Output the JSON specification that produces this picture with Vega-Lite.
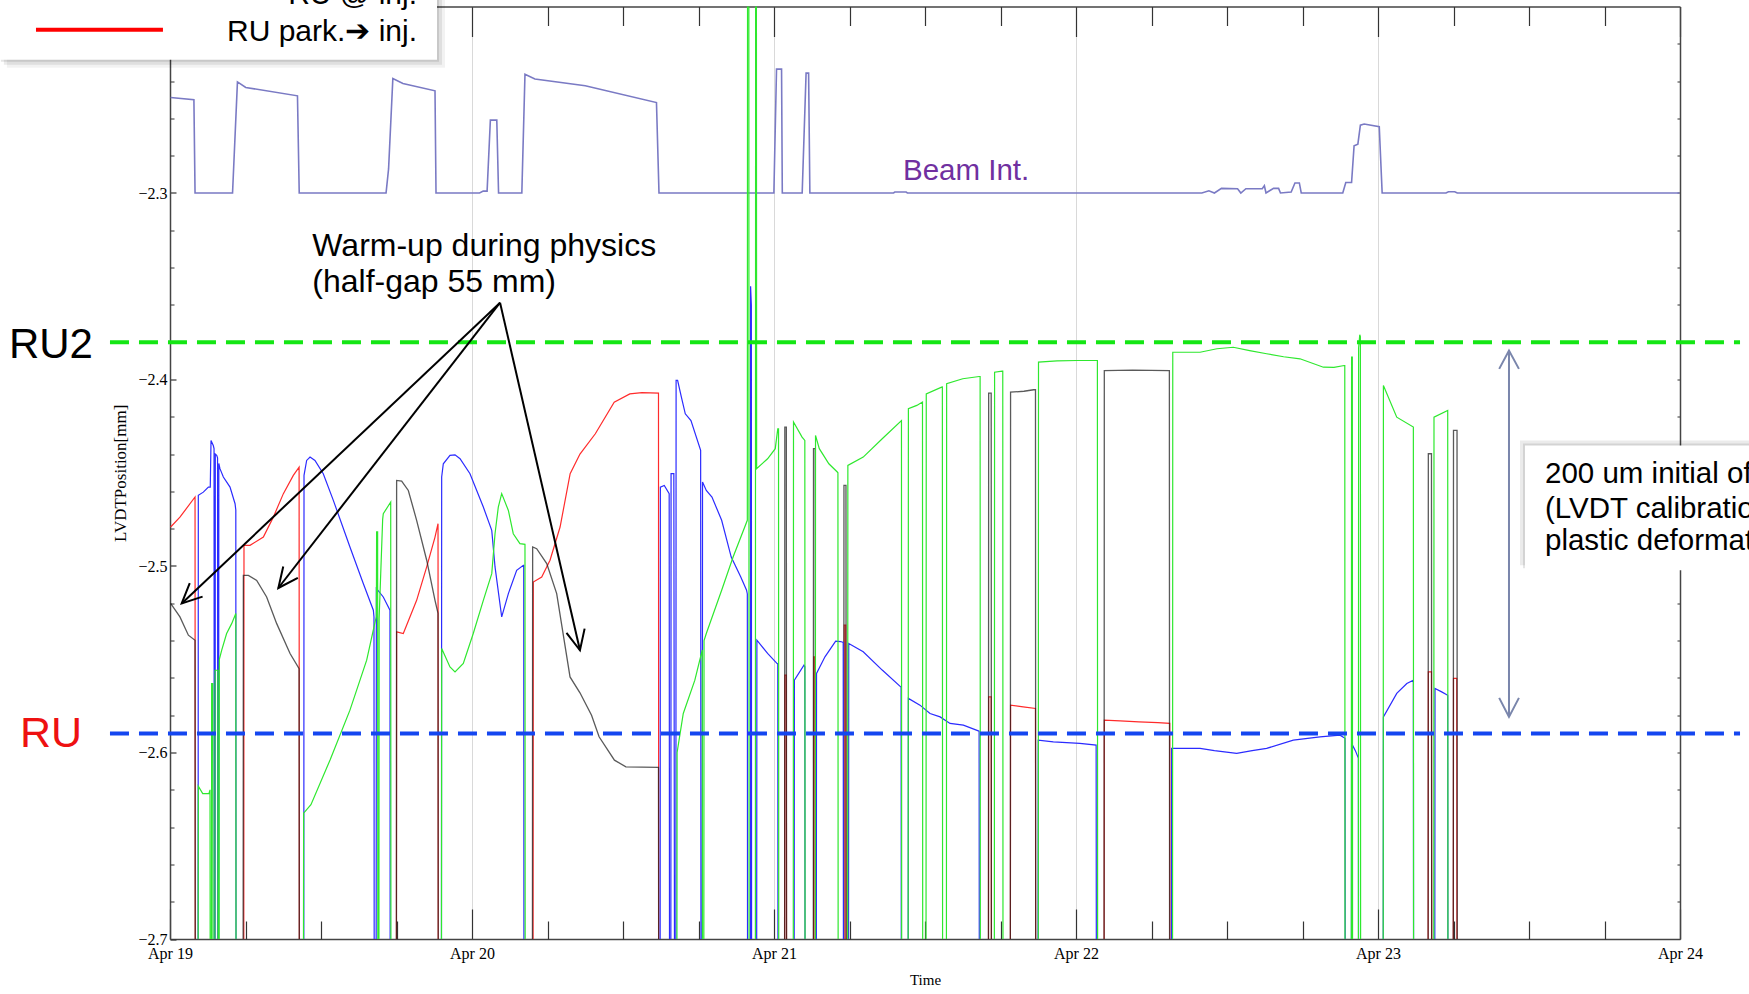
{
"$schema":"https://vega.github.io/schema/vega-lite/v6.json",
"width":1510,"height":932.5,
"autosize":{"type":"none"},
"padding":{"left":170,"top":6.5,"right":69,"bottom":55},
"background":"#ffffff",
"config":{"view":{"stroke":null}},
"datasets":{
"series":[
{"s":"p","h":0.05,"v":-2.2488},{"s":"p","h":1.9,"v":-2.25},{"s":"p","h":1.99,"v":-2.3},{"s":"p","h":4.97,"v":-2.3},{"s":"p","h":5.36,"v":-2.2404},{"s":"p","h":6.02,"v":-2.2434},{"s":"p","h":10.13,"v":-2.2479},{"s":"p","h":10.27,"v":-2.3},{"s":"p","h":17.17,"v":-2.3},{"s":"p","h":17.37,"v":-2.2871},{"s":"p","h":17.71,"v":-2.2386},{"s":"p","h":18.51,"v":-2.2413},{"s":"p","h":21.06,"v":-2.2452},{"s":"p","h":21.14,"v":-2.3},{"s":"p","h":24.6,"v":-2.3},{"s":"p","h":24.89,"v":-2.299},{"s":"p","h":25.2,"v":-2.299},{"s":"p","h":25.46,"v":-2.2609},{"s":"p","h":25.97,"v":-2.2609},{"s":"p","h":26.11,"v":-2.3},{"s":"p","h":27.96,"v":-2.3},{"s":"p","h":28.21,"v":-2.2363},{"s":"p","h":29.0,"v":-2.2389},{"s":"p","h":33.0,"v":-2.2425},{"s":"p","h":38.66,"v":-2.2515},{"s":"p","h":38.86,"v":-2.3},{"s":"p","h":47.99,"v":-2.3},{"s":"p","h":48.2,"v":-2.2336},{"s":"p","h":48.6,"v":-2.2336},{"s":"p","h":48.66,"v":-2.3},{"s":"p","h":50.24,"v":-2.3},{"s":"p","h":50.55,"v":-2.2357},{"s":"p","h":50.75,"v":-2.2357},{"s":"p","h":50.85,"v":-2.3},{"s":"p","h":57.5,"v":-2.3},{"s":"p","h":57.6,"v":-2.2995},{"s":"p","h":58.5,"v":-2.2995},{"s":"p","h":58.6,"v":-2.3},{"s":"p","h":82.0,"v":-2.3},{"s":"p","h":82.56,"v":-2.2988},{"s":"p","h":83.0,"v":-2.3},{"s":"p","h":83.56,"v":-2.2975},{"s":"p","h":84.84,"v":-2.2977},{"s":"p","h":85.1,"v":-2.3},{"s":"p","h":85.5,"v":-2.2977},{"s":"p","h":86.8,"v":-2.2977},{"s":"p","h":86.97,"v":-2.2961},{"s":"p","h":87.1,"v":-2.3},{"s":"p","h":87.7,"v":-2.2975},{"s":"p","h":88.1,"v":-2.2975},{"s":"p","h":88.25,"v":-2.3},{"s":"p","h":89.1,"v":-2.2995},{"s":"p","h":89.4,"v":-2.2946},{"s":"p","h":89.75,"v":-2.2946},{"s":"p","h":89.9,"v":-2.3},{"s":"p","h":93.2,"v":-2.3},{"s":"p","h":93.44,"v":-2.2944},{"s":"p","h":93.9,"v":-2.2944},{"s":"p","h":94.1,"v":-2.2747},{"s":"p","h":94.4,"v":-2.2738},{"s":"p","h":94.6,"v":-2.2636},{"s":"p","h":94.9,"v":-2.263},{"s":"p","h":96.1,"v":-2.2645},{"s":"p","h":96.33,"v":-2.3},{"s":"p","h":101.4,"v":-2.3},{"s":"p","h":101.6,"v":-2.2993},{"s":"p","h":102.1,"v":-2.2993},{"s":"p","h":102.3,"v":-2.3},{"s":"p","h":119.95,"v":-2.3},

{"s":"r","h":0.05,"v":-2.4791},{"s":"r","h":0.79,"v":-2.4738},{"s":"r","h":1.99,"v":-2.463},{"s":"r","h":2.01,"v":-2.75},{"s":"r","h":5.86,"v":-2.75},{"s":"r","h":5.88,"v":-2.4889},{"s":"r","h":6.36,"v":-2.4889},{"s":"r","h":7.42,"v":-2.4845},{"s":"r","h":8.21,"v":-2.4738},{"s":"r","h":9.01,"v":-2.4612},{"s":"r","h":9.8,"v":-2.4514},{"s":"r","h":10.26,"v":-2.447},{"s":"r","h":10.28,"v":-2.75},{"s":"r","h":17.99,"v":-2.75},{"s":"r","h":18.01,"v":-2.5353},{"s":"r","h":18.54,"v":-2.5362},{"s":"r","h":19.6,"v":-2.5184},{"s":"r","h":20.4,"v":-2.5005},{"s":"r","h":21.06,"v":-2.4845},{"s":"r","h":21.3,"v":-2.4773},{"s":"r","h":21.32,"v":-2.75},{"s":"r","h":28.85,"v":-2.75},{"s":"r","h":28.87,"v":-2.5086},{"s":"r","h":29.54,"v":-2.5059},{"s":"r","h":30.2,"v":-2.4969},{"s":"r","h":31.0,"v":-2.4791},{"s":"r","h":31.8,"v":-2.4505},{"s":"r","h":32.58,"v":-2.44},{"s":"r","h":33.8,"v":-2.4291},{"s":"r","h":35.3,"v":-2.4122},{"s":"r","h":36.54,"v":-2.4077},{"s":"r","h":37.5,"v":-2.407},{"s":"r","h":38.82,"v":-2.4073},{"s":"r","h":38.84,"v":-2.75},{"s":"r","h":48.84,"v":-2.75},{"s":"r","h":48.86,"v":-2.5585},{"s":"r","h":48.98,"v":-2.5585},{"s":"r","h":49.0,"v":-2.75},{"s":"r","h":51.14,"v":-2.75},{"s":"r","h":51.16,"v":-2.5487},{"s":"r","h":51.26,"v":-2.5487},{"s":"r","h":51.28,"v":-2.75},{"s":"r","h":53.56,"v":-2.75},{"s":"r","h":53.58,"v":-2.5317},{"s":"r","h":53.7,"v":-2.5317},{"s":"r","h":53.72,"v":-2.75},{"s":"r","h":65.04,"v":-2.75},{"s":"r","h":65.06,"v":-2.5702},{"s":"r","h":65.26,"v":-2.5702},{"s":"r","h":65.28,"v":-2.75},{"s":"r","h":66.78,"v":-2.75},{"s":"r","h":66.8,"v":-2.5746},{"s":"r","h":67.8,"v":-2.5755},{"s":"r","h":68.78,"v":-2.5764},{"s":"r","h":68.8,"v":-2.75},{"s":"r","h":74.23,"v":-2.75},{"s":"r","h":74.25,"v":-2.5826},{"s":"r","h":75.5,"v":-2.583},{"s":"r","h":77.0,"v":-2.5836},{"s":"r","h":78.5,"v":-2.584},{"s":"r","h":79.45,"v":-2.5844},{"s":"r","h":79.47,"v":-2.75},{"s":"r","h":99.98,"v":-2.75},{"s":"r","h":100.0,"v":-2.5568},{"s":"r","h":100.25,"v":-2.5568},{"s":"r","h":100.27,"v":-2.75},{"s":"r","h":101.98,"v":-2.75},{"s":"r","h":102.0,"v":-2.5603},{"s":"r","h":102.26,"v":-2.5603},{"s":"r","h":102.28,"v":-2.75},{"s":"r","h":120,"v":-2.75},

{"s":"k","h":0.05,"v":-2.5201},{"s":"k","h":0.79,"v":-2.5273},{"s":"k","h":1.46,"v":-2.5371},{"s":"k","h":1.99,"v":-2.5398},{"s":"k","h":2.01,"v":-2.75},{"s":"k","h":5.81,"v":-2.75},{"s":"k","h":5.83,"v":-2.505},{"s":"k","h":6.23,"v":-2.505},{"s":"k","h":6.89,"v":-2.5077},{"s":"k","h":7.68,"v":-2.5166},{"s":"k","h":8.48,"v":-2.5309},{"s":"k","h":9.54,"v":-2.5469},{"s":"k","h":10.26,"v":-2.555},{"s":"k","h":10.28,"v":-2.75},{"s":"k","h":17.99,"v":-2.75},{"s":"k","h":18.01,"v":-2.4541},{"s":"k","h":18.41,"v":-2.4545},{"s":"k","h":18.94,"v":-2.4595},{"s":"k","h":19.6,"v":-2.4755},{"s":"k","h":20.4,"v":-2.4969},{"s":"k","h":21.06,"v":-2.5184},{"s":"k","h":21.3,"v":-2.5254},{"s":"k","h":21.32,"v":-2.75},{"s":"k","h":28.8,"v":-2.75},{"s":"k","h":28.82,"v":-2.4898},{"s":"k","h":29.14,"v":-2.4907},{"s":"k","h":29.94,"v":-2.4987},{"s":"k","h":30.73,"v":-2.5148},{"s":"k","h":31.79,"v":-2.5595},{"s":"k","h":32.58,"v":-2.568},{"s":"k","h":33.5,"v":-2.58},{"s":"k","h":34.1,"v":-2.5916},{"s":"k","h":35.32,"v":-2.6041},{"s":"k","h":36.23,"v":-2.6077},{"s":"k","h":37.5,"v":-2.6078},{"s":"k","h":38.82,"v":-2.608},{"s":"k","h":38.84,"v":-2.75},{"s":"k","h":48.84,"v":-2.75},{"s":"k","h":48.86,"v":-2.4255},{"s":"k","h":48.98,"v":-2.4255},{"s":"k","h":49.0,"v":-2.75},{"s":"k","h":51.12,"v":-2.75},{"s":"k","h":51.14,"v":-2.4371},{"s":"k","h":51.28,"v":-2.4371},{"s":"k","h":51.3,"v":-2.75},{"s":"k","h":53.54,"v":-2.75},{"s":"k","h":53.56,"v":-2.4568},{"s":"k","h":53.72,"v":-2.4568},{"s":"k","h":53.74,"v":-2.75},{"s":"k","h":65.04,"v":-2.75},{"s":"k","h":65.06,"v":-2.4073},{"s":"k","h":65.26,"v":-2.4073},{"s":"k","h":65.28,"v":-2.75},{"s":"k","h":66.78,"v":-2.75},{"s":"k","h":66.8,"v":-2.4068},{"s":"k","h":67.86,"v":-2.4063},{"s":"k","h":68.63,"v":-2.4055},{"s":"k","h":68.78,"v":-2.4055},{"s":"k","h":68.8,"v":-2.75},{"s":"k","h":74.23,"v":-2.75},{"s":"k","h":74.25,"v":-2.3952},{"s":"k","h":76.5,"v":-2.395},{"s":"k","h":79.42,"v":-2.3952},{"s":"k","h":79.44,"v":-2.75},{"s":"k","h":99.98,"v":-2.75},{"s":"k","h":100.0,"v":-2.4398},{"s":"k","h":100.25,"v":-2.4398},{"s":"k","h":100.27,"v":-2.75},{"s":"k","h":101.98,"v":-2.75},{"s":"k","h":102.0,"v":-2.4273},{"s":"k","h":102.28,"v":-2.4273},{"s":"k","h":102.3,"v":-2.75},{"s":"k","h":120,"v":-2.75},

{"s":"b","h":0,"v":-2.75},{"s":"b","h":2.23,"v":-2.75},{"s":"b","h":2.25,"v":-2.4621},{"s":"b","h":2.65,"v":-2.4604},{"s":"b","h":3.05,"v":-2.4577},{"s":"b","h":3.2,"v":-2.4577},{"s":"b","h":3.26,"v":-2.4327},{"s":"b","h":3.44,"v":-2.4354},{"s":"b","h":3.5,"v":-2.437},{"s":"b","h":3.52,"v":-2.75},{"s":"b","h":3.58,"v":-2.75},{"s":"b","h":3.6,"v":-2.44},{"s":"b","h":3.71,"v":-2.4407},{"s":"b","h":3.78,"v":-2.442},{"s":"b","h":3.8,"v":-2.75},{"s":"b","h":3.86,"v":-2.75},{"s":"b","h":3.88,"v":-2.445},{"s":"b","h":3.97,"v":-2.4478},{"s":"b","h":4.24,"v":-2.4523},{"s":"b","h":4.77,"v":-2.4577},{"s":"b","h":5.17,"v":-2.4666},{"s":"b","h":5.23,"v":-2.47},{"s":"b","h":5.25,"v":-2.75},{"s":"b","h":10.63,"v":-2.75},{"s":"b","h":10.65,"v":-2.4514},{"s":"b","h":10.86,"v":-2.4434},{"s":"b","h":11.13,"v":-2.4416},{"s":"b","h":11.52,"v":-2.4434},{"s":"b","h":12.18,"v":-2.4505},{"s":"b","h":12.98,"v":-2.4648},{"s":"b","h":14.3,"v":-2.4898},{"s":"b","h":15.36,"v":-2.5094},{"s":"b","h":16.16,"v":-2.5237},{"s":"b","h":16.21,"v":-2.5273},{"s":"b","h":16.23,"v":-2.75},{"s":"b","h":16.38,"v":-2.75},{"s":"b","h":16.4,"v":-2.512},{"s":"b","h":16.95,"v":-2.5166},{"s":"b","h":17.48,"v":-2.5237},{"s":"b","h":17.5,"v":-2.75},{"s":"b","h":21.57,"v":-2.75},{"s":"b","h":21.59,"v":-2.4523},{"s":"b","h":21.72,"v":-2.4452},{"s":"b","h":22.25,"v":-2.4407},{"s":"b","h":22.65,"v":-2.4404},{"s":"b","h":23.05,"v":-2.4425},{"s":"b","h":23.84,"v":-2.4505},{"s":"b","h":24.9,"v":-2.4684},{"s":"b","h":25.57,"v":-2.4809},{"s":"b","h":25.83,"v":-2.5005},{"s":"b","h":26.36,"v":-2.5273},{"s":"b","h":26.89,"v":-2.5148},{"s":"b","h":27.55,"v":-2.5023},{"s":"b","h":28.08,"v":-2.4996},{"s":"b","h":28.11,"v":-2.4996},{"s":"b","h":28.13,"v":-2.75},{"s":"b","h":38.95,"v":-2.75},{"s":"b","h":38.97,"v":-2.4577},{"s":"b","h":39.28,"v":-2.4568},{"s":"b","h":39.67,"v":-2.4612},{"s":"b","h":39.7,"v":-2.75},{"s":"b","h":39.8,"v":-2.75},{"s":"b","h":39.82,"v":-2.4505},{"s":"b","h":40.04,"v":-2.4505},{"s":"b","h":40.1,"v":-2.75},{"s":"b","h":40.2,"v":-2.75},{"s":"b","h":40.22,"v":-2.4005},{"s":"b","h":40.34,"v":-2.4005},{"s":"b","h":40.64,"v":-2.4095},{"s":"b","h":40.95,"v":-2.4184},{"s":"b","h":41.4,"v":-2.422},{"s":"b","h":42.17,"v":-2.438},{"s":"b","h":42.2,"v":-2.75},{"s":"b","h":42.3,"v":-2.75},{"s":"b","h":42.32,"v":-2.455},{"s":"b","h":42.62,"v":-2.4595},{"s":"b","h":43.07,"v":-2.463},{"s":"b","h":43.84,"v":-2.4755},{"s":"b","h":44.6,"v":-2.4952},{"s":"b","h":45.36,"v":-2.5059},{"s":"b","h":45.82,"v":-2.513},{"s":"b","h":45.88,"v":-2.515},{"s":"b","h":45.9,"v":-2.75},{"s":"b","h":46.12,"v":-2.75},{"s":"b","h":46.14,"v":-2.35},{"s":"b","h":46.2,"v":-2.36},{"s":"b","h":46.22,"v":-2.75},{"s":"b","h":46.62,"v":-2.75},{"s":"b","h":46.64,"v":-2.5398},{"s":"b","h":47.49,"v":-2.5469},{"s":"b","h":48.25,"v":-2.5523},{"s":"b","h":48.3,"v":-2.5525},{"s":"b","h":48.32,"v":-2.75},{"s":"b","h":49.6,"v":-2.75},{"s":"b","h":49.62,"v":-2.5612},{"s":"b","h":50.38,"v":-2.5532},{"s":"b","h":50.45,"v":-2.554},{"s":"b","h":50.47,"v":-2.75},{"s":"b","h":51.36,"v":-2.75},{"s":"b","h":51.38,"v":-2.5576},{"s":"b","h":52.05,"v":-2.5487},{"s":"b","h":52.9,"v":-2.5403},{"s":"b","h":53.3,"v":-2.5405},{"s":"b","h":53.5,"v":-2.541},{"s":"b","h":53.52,"v":-2.75},{"s":"b","h":53.92,"v":-2.75},{"s":"b","h":53.94,"v":-2.5416},{"s":"b","h":55.09,"v":-2.546},{"s":"b","h":56.6,"v":-2.5558},{"s":"b","h":58.07,"v":-2.5648},{"s":"b","h":58.1,"v":-2.565},{"s":"b","h":58.12,"v":-2.75},{"s":"b","h":58.66,"v":-2.75},{"s":"b","h":58.68,"v":-2.571},{"s":"b","h":59.6,"v":-2.5746},{"s":"b","h":60.4,"v":-2.5791},{"s":"b","h":61.2,"v":-2.5809},{"s":"b","h":61.99,"v":-2.5844},{"s":"b","h":63.05,"v":-2.5853},{"s":"b","h":64.24,"v":-2.5884},{"s":"b","h":64.3,"v":-2.5886},{"s":"b","h":64.32,"v":-2.75},{"s":"b","h":68.98,"v":-2.75},{"s":"b","h":69.0,"v":-2.5934},{"s":"b","h":70.2,"v":-2.5943},{"s":"b","h":72.3,"v":-2.5951},{"s":"b","h":73.6,"v":-2.596},{"s":"b","h":73.62,"v":-2.75},{"s":"b","h":79.58,"v":-2.75},{"s":"b","h":79.6,"v":-2.5978},{"s":"b","h":81.86,"v":-2.5978},{"s":"b","h":83.0,"v":-2.599},{"s":"b","h":84.77,"v":-2.6005},{"s":"b","h":86.0,"v":-2.599},{"s":"b","h":87.15,"v":-2.5978},{"s":"b","h":89.27,"v":-2.5934},{"s":"b","h":91.39,"v":-2.5916},{"s":"b","h":92.98,"v":-2.5907},{"s":"b","h":93.38,"v":-2.5924},{"s":"b","h":93.4,"v":-2.75},{"s":"b","h":93.88,"v":-2.75},{"s":"b","h":93.9,"v":-2.5951},{"s":"b","h":94.2,"v":-2.599},{"s":"b","h":94.44,"v":-2.603},{"s":"b","h":94.46,"v":-2.75},{"s":"b","h":96.41,"v":-2.75},{"s":"b","h":96.43,"v":-2.5809},{"s":"b","h":97.49,"v":-2.5683},{"s":"b","h":98.29,"v":-2.563},{"s":"b","h":98.81,"v":-2.5612},{"s":"b","h":98.83,"v":-2.75},{"s":"b","h":100.51,"v":-2.75},{"s":"b","h":100.53,"v":-2.5657},{"s":"b","h":101.06,"v":-2.5675},{"s":"b","h":101.54,"v":-2.5693},{"s":"b","h":101.56,"v":-2.75},{"s":"b","h":120,"v":-2.75},

{"s":"g","h":0,"v":-2.75},{"s":"g","h":2.23,"v":-2.75},{"s":"g","h":2.25,"v":-2.618},{"s":"g","h":2.6,"v":-2.622},{"s":"g","h":3.1,"v":-2.622},{"s":"g","h":3.18,"v":-2.62},{"s":"g","h":3.2,"v":-2.75},{"s":"g","h":3.29,"v":-2.75},{"s":"g","h":3.31,"v":-2.563},{"s":"g","h":3.4,"v":-2.563},{"s":"g","h":3.42,"v":-2.75},{"s":"g","h":3.56,"v":-2.75},{"s":"g","h":3.58,"v":-2.5559},{"s":"g","h":3.8,"v":-2.5559},{"s":"g","h":3.82,"v":-2.75},{"s":"g","h":3.9,"v":-2.75},{"s":"g","h":3.92,"v":-2.55},{"s":"g","h":4.11,"v":-2.5451},{"s":"g","h":4.5,"v":-2.5362},{"s":"g","h":4.9,"v":-2.5309},{"s":"g","h":5.23,"v":-2.5255},{"s":"g","h":5.25,"v":-2.75},{"s":"g","h":10.6,"v":-2.75},{"s":"g","h":10.62,"v":-2.6325},{"s":"g","h":11.2,"v":-2.628},{"s":"g","h":12.72,"v":-2.604},{"s":"g","h":14.3,"v":-2.5773},{"s":"g","h":15.63,"v":-2.5505},{"s":"g","h":16.3,"v":-2.53},{"s":"g","h":16.4,"v":-2.5273},{"s":"g","h":16.42,"v":-2.4817},{"s":"g","h":16.5,"v":-2.4817},{"s":"g","h":16.52,"v":-2.75},{"s":"g","h":16.6,"v":-2.75},{"s":"g","h":16.62,"v":-2.528},{"s":"g","h":16.9,"v":-2.475},{"s":"g","h":16.95,"v":-2.472},{"s":"g","h":17.54,"v":-2.4657},{"s":"g","h":17.56,"v":-2.75},{"s":"g","h":21.57,"v":-2.75},{"s":"g","h":21.59,"v":-2.5442},{"s":"g","h":22.25,"v":-2.5541},{"s":"g","h":22.65,"v":-2.5568},{"s":"g","h":23.31,"v":-2.5523},{"s":"g","h":24.1,"v":-2.5362},{"s":"g","h":24.9,"v":-2.5184},{"s":"g","h":25.57,"v":-2.5041},{"s":"g","h":25.83,"v":-2.4827},{"s":"g","h":26.09,"v":-2.4684},{"s":"g","h":26.36,"v":-2.4612},{"s":"g","h":26.89,"v":-2.4702},{"s":"g","h":27.28,"v":-2.4827},{"s":"g","h":27.81,"v":-2.488},{"s":"g","h":28.21,"v":-2.4884},{"s":"g","h":28.23,"v":-2.75},{"s":"g","h":40.28,"v":-2.75},{"s":"g","h":40.3,"v":-2.6},{"s":"g","h":40.79,"v":-2.5791},{"s":"g","h":41.71,"v":-2.5612},{"s":"g","h":42.3,"v":-2.545},{"s":"g","h":42.32,"v":-2.75},{"s":"g","h":42.42,"v":-2.75},{"s":"g","h":42.44,"v":-2.54},{"s":"g","h":42.62,"v":-2.5362},{"s":"g","h":43.84,"v":-2.513},{"s":"g","h":44.75,"v":-2.4952},{"s":"g","h":45.88,"v":-2.4755},{"s":"g","h":45.9,"v":-2.15},{"s":"g","h":46.0,"v":-2.15},{"s":"g","h":46.02,"v":-2.75},{"s":"g","h":46.52,"v":-2.75},{"s":"g","h":46.54,"v":-2.15},{"s":"g","h":46.6,"v":-2.15},{"s":"g","h":46.62,"v":-2.4478},{"s":"g","h":47.49,"v":-2.4425},{"s":"g","h":48.1,"v":-2.4371},{"s":"g","h":48.3,"v":-2.4264},{"s":"g","h":48.36,"v":-2.4264},{"s":"g","h":48.38,"v":-2.75},{"s":"g","h":49.53,"v":-2.75},{"s":"g","h":49.55,"v":-2.4228},{"s":"g","h":50.23,"v":-2.4309},{"s":"g","h":50.45,"v":-2.4327},{"s":"g","h":50.47,"v":-2.75},{"s":"g","h":51.28,"v":-2.75},{"s":"g","h":51.3,"v":-2.43},{"s":"g","h":51.6,"v":-2.4371},{"s":"g","h":52.36,"v":-2.4452},{"s":"g","h":53.03,"v":-2.4496},{"s":"g","h":53.08,"v":-2.45},{"s":"g","h":53.1,"v":-2.75},{"s":"g","h":53.85,"v":-2.75},{"s":"g","h":53.87,"v":-2.4461},{"s":"g","h":55.09,"v":-2.4416},{"s":"g","h":56.6,"v":-2.4318},{"s":"g","h":58.13,"v":-2.422},{"s":"g","h":58.15,"v":-2.75},{"s":"g","h":58.66,"v":-2.75},{"s":"g","h":58.68,"v":-2.4157},{"s":"g","h":59.35,"v":-2.4139},{"s":"g","h":59.8,"v":-2.4121},{"s":"g","h":59.82,"v":-2.75},{"s":"g","h":60.08,"v":-2.75},{"s":"g","h":60.1,"v":-2.4077},{"s":"g","h":61.32,"v":-2.4041},{"s":"g","h":61.38,"v":-2.404},{"s":"g","h":61.4,"v":-2.75},{"s":"g","h":61.7,"v":-2.75},{"s":"g","h":61.72,"v":-2.4023},{"s":"g","h":63.0,"v":-2.3996},{"s":"g","h":64.31,"v":-2.3984},{"s":"g","h":64.38,"v":-2.3984},{"s":"g","h":64.4,"v":-2.75},{"s":"g","h":65.51,"v":-2.75},{"s":"g","h":65.53,"v":-2.3961},{"s":"g","h":66.13,"v":-2.3955},{"s":"g","h":66.18,"v":-2.3955},{"s":"g","h":66.2,"v":-2.75},{"s":"g","h":69.0,"v":-2.75},{"s":"g","h":69.02,"v":-2.3907},{"s":"g","h":70.5,"v":-2.39},{"s":"g","h":72.1,"v":-2.3898},{"s":"g","h":73.7,"v":-2.3898},{"s":"g","h":73.72,"v":-2.75},{"s":"g","h":79.67,"v":-2.75},{"s":"g","h":79.69,"v":-2.3854},{"s":"g","h":81.86,"v":-2.3854},{"s":"g","h":83.2,"v":-2.3835},{"s":"g","h":84.5,"v":-2.3827},{"s":"g","h":85.8,"v":-2.3845},{"s":"g","h":87.15,"v":-2.3862},{"s":"g","h":88.5,"v":-2.3878},{"s":"g","h":89.8,"v":-2.3889},{"s":"g","h":91.66,"v":-2.3934},{"s":"g","h":92.5,"v":-2.3935},{"s":"g","h":93.32,"v":-2.3925},{"s":"g","h":93.36,"v":-2.3925},{"s":"g","h":93.38,"v":-2.75},{"s":"g","h":93.88,"v":-2.75},{"s":"g","h":93.9,"v":-2.388},{"s":"g","h":93.96,"v":-2.388},{"s":"g","h":93.98,"v":-2.75},{"s":"g","h":94.44,"v":-2.75},{"s":"g","h":94.46,"v":-2.383},{"s":"g","h":94.55,"v":-2.376},{"s":"g","h":94.6,"v":-2.377},{"s":"g","h":94.62,"v":-2.75},{"s":"g","h":96.41,"v":-2.75},{"s":"g","h":96.43,"v":-2.4032},{"s":"g","h":97.49,"v":-2.4202},{"s":"g","h":98.81,"v":-2.4255},{"s":"g","h":98.83,"v":-2.75},{"s":"g","h":100.43,"v":-2.75},{"s":"g","h":100.45,"v":-2.4202},{"s":"g","h":101.54,"v":-2.4166},{"s":"g","h":101.56,"v":-2.75},{"s":"g","h":120,"v":-2.75}
],
"rules":[
{"r":"g","h":-4.77,"h2":124.77,"v":-2.38},
{"r":"b","h":-4.77,"h2":124.77,"v":-2.5898},
{"r":"leg","h":-10.65,"h2":-0.56,"v":-2.2125}
],
"boxes":[
{"b":"leg","h":-13.6,"h2":21.22,"v":-2.17,"v2":-2.2286},
{"b":"note","h":107.68,"h2":135,"v":-2.4354,"v2":-2.5023}
],
"arrows":[
{"c":"w","g":"s1","k":0,"h":26.23,"v":-2.3588},{"c":"w","g":"s1","k":1,"h":0.93,"v":-2.5201},
{"c":"w","g":"h1","k":0,"h":2.59,"v":-2.5164},{"c":"w","g":"h1","k":1,"h":0.93,"v":-2.5201},{"c":"w","g":"h1","k":2,"h":1.57,"v":-2.5092},
{"c":"w","g":"s2","k":0,"h":26.23,"v":-2.3588},{"c":"w","g":"s2","k":1,"h":8.61,"v":-2.5118},
{"c":"w","g":"h2","k":0,"h":10.16,"v":-2.5064},{"c":"w","g":"h2","k":1,"h":8.61,"v":-2.5118},{"c":"w","g":"h2","k":2,"h":9.0,"v":-2.5003},
{"c":"w","g":"s3","k":0,"h":26.23,"v":-2.3588},{"c":"w","g":"s3","k":1,"h":32.58,"v":-2.5452},
{"c":"w","g":"h3","k":0,"h":32.95,"v":-2.5336},{"c":"w","g":"h3","k":1,"h":32.58,"v":-2.5452},{"c":"w","g":"h3","k":2,"h":31.51,"v":-2.5358},
{"c":"o","g":"s","k":0,"h":106.41,"v":-2.3845},{"c":"o","g":"s","k":1,"h":106.41,"v":-2.5809},
{"c":"o","g":"t","k":0,"h":105.63,"v":-2.3943},{"c":"o","g":"t","k":1,"h":106.41,"v":-2.3845},{"c":"o","g":"t","k":2,"h":107.2,"v":-2.3943},
{"c":"o","g":"u","k":0,"h":105.63,"v":-2.5707},{"c":"o","g":"u","k":1,"h":106.41,"v":-2.5809},{"c":"o","g":"u","k":2,"h":107.2,"v":-2.5707}
],
"labels":[
{"k":"beam","t":"Beam Int.","h":58.25,"v":-2.2928},
{"k":"warm","t":"Warm-up during physics","h":11.31,"v":-2.3339},
{"k":"warm","t":"(half-gap 55 mm)","h":11.31,"v":-2.3532},
{"k":"ru2","t":"RU2","h":-12.8,"v":-2.3885},
{"k":"ru","t":"RU","h":-11.92,"v":-2.597},
{"k":"leg","t":"RU @ inj.","h":19.63,"v":-2.1986},
{"k":"leg","t":"RU park.➔ inj.","h":19.63,"v":-2.2184},
{"k":"box","t":"200 um initial offset","h":109.27,"v":-2.4557},
{"k":"box","t":"(LVDT calibration +","h":109.27,"v":-2.4741},
{"k":"box","t":"plastic deformation)","h":109.27,"v":-2.4916}
]
},
"encoding":{
"x":{"field":"h","type":"quantitative","scale":{"domain":[0,120],"nice":false,"zero":false},"axis":null},
"y":{"field":"v","type":"quantitative","scale":{"domain":[-2.7,-2.2],"nice":false,"zero":false},"axis":null}
},
"layer":[
{"data":{"name":"series"},"transform":[{"filter":"datum.s === 'p'"}],
 "mark":{"type":"line","color":"#7a7ac4","strokeWidth":1.6,"clip":true}},
{"data":{"name":"series"},"transform":[{"filter":"datum.s === 'r'"}],
 "mark":{"type":"line","color":"#ff2b2b","strokeWidth":1.2,"clip":true},
 "encoding":{
  "x":{"field":"h","type":"quantitative","scale":{"domain":[0,120],"nice":false,"zero":false},
   "axis":{"orient":"bottom","values":[0,24,48,72,96,120],"labelExpr":"'Apr ' + (19 + round(datum.value / 24))","tickSize":-30,"tickColor":"#333333","tickWidth":1.2,"domain":true,"domainColor":"#444444","domainWidth":1.5,"labelFont":"Liberation Serif","labelFontSize":16,"labelColor":"#000000","labelPadding":36,"labelFlush":false,"labelOverlap":false,"title":"Time","titleFont":"Liberation Serif","titleFontSize":15,"titleFontWeight":"normal","titleColor":"#000000","titlePadding":11,"grid":true,"gridColor":"#d9d9d9","gridWidth":1}},
  "y":{"field":"v","type":"quantitative","scale":{"domain":[-2.7,-2.2],"nice":false,"zero":false},
   "axis":{"orient":"left","values":[-2.7,-2.6,-2.5,-2.4,-2.3],"format":".1f","tickSize":-6,"tickColor":"#333333","tickWidth":1.2,"domain":true,"domainColor":"#444444","domainWidth":1.5,"labelFont":"Liberation Serif","labelFontSize":16,"labelColor":"#000000","labelPadding":9,"title":"LVDTPosition[mm]","titleFont":"Liberation Serif","titleFontSize":17,"titleFontWeight":"normal","titleColor":"#000000","titlePadding":8,"grid":false}}
 }},
{"data":{"name":"series"},"transform":[{"filter":"datum.s === 'k'"}],
 "mark":{"type":"line","color":"#1a1a1a","opacity":0.72,"strokeWidth":1.3,"clip":true},
 "encoding":{
  "x":{"field":"h","type":"quantitative","scale":{"domain":[0,120],"nice":false,"zero":false},
   "axis":{"orient":"top","values":[0,24,48,72,96,120],"labels":false,"tickSize":-30,"tickColor":"#333333","tickWidth":1.2,"domain":true,"domainColor":"#444444","domainWidth":1.5,"title":null,"grid":false}},
  "y":{"field":"v","type":"quantitative","scale":{"domain":[-2.7,-2.2],"nice":false,"zero":false},
   "axis":{"orient":"right","values":[-2.68,-2.66,-2.64,-2.62,-2.6,-2.58,-2.56,-2.54,-2.52,-2.5,-2.48,-2.46,-2.44,-2.42,-2.4,-2.38,-2.36,-2.34,-2.32,-2.3,-2.28,-2.26,-2.24,-2.22],"labels":false,"tickSize":-3,"tickColor":"#333333","domain":true,"domainColor":"#444444","domainWidth":1.5,"title":null,"grid":false}}
 }},
{"data":{"name":"series"},"transform":[{"filter":"datum.s === 'b'"}],
 "mark":{"type":"line","color":"#2b2bff","strokeWidth":1.2,"clip":true},
 "encoding":{
  "x":{"field":"h","type":"quantitative","scale":{"domain":[0,120],"nice":false,"zero":false},
   "axis":{"orient":"bottom","values":[6,12,18,30,36,42,54,60,66,78,84,90,102,108,114],"labels":false,"tickSize":-18,"tickColor":"#333333","tickWidth":1.2,"domain":false,"title":null,"grid":false}},
  "y":{"field":"v","type":"quantitative","scale":{"domain":[-2.7,-2.2],"nice":false,"zero":false},
   "axis":{"orient":"left","values":[-2.68,-2.66,-2.64,-2.62,-2.58,-2.56,-2.54,-2.52,-2.48,-2.46,-2.44,-2.42,-2.38,-2.36,-2.34,-2.32,-2.28,-2.26,-2.24,-2.22],"labels":false,"tickSize":-4,"tickColor":"#333333","domain":false,"title":null,"grid":false}}
 }},
{"data":{"name":"series"},"transform":[{"filter":"datum.s === 'g'"}],
 "mark":{"type":"line","color":"#2ee82e","strokeWidth":1.2,"clip":true},
 "encoding":{
  "x":{"field":"h","type":"quantitative","scale":{"domain":[0,120],"nice":false,"zero":false},
   "axis":{"orient":"top","values":[6,12,18,30,36,42,54,60,66,78,84,90,102,108,114],"labels":false,"tickSize":-19,"tickColor":"#333333","tickWidth":1.2,"domain":false,"title":null,"grid":false}}
 }},
{"data":{"name":"rules"},"transform":[{"filter":"datum.r === 'g'"}],
 "mark":{"type":"rule","color":"#14e614","strokeWidth":4,"strokeDash":[19,10]},
 "encoding":{"x2":{"field":"h2"}}},
{"data":{"name":"rules"},"transform":[{"filter":"datum.r === 'b'"}],
 "mark":{"type":"rule","color":"#1446f0","strokeWidth":4,"strokeDash":[19,10]},
 "encoding":{"x2":{"field":"h2"}}},
{"data":{"name":"arrows"},"transform":[{"filter":"datum.c === 'w'"}],
 "mark":{"type":"line","color":"#000000","strokeWidth":2},
 "encoding":{"detail":{"field":"g"},"order":{"field":"k"}}},
{"data":{"name":"arrows"},"transform":[{"filter":"datum.c === 'o'"}],
 "mark":{"type":"line","color":"#7a86ac","strokeWidth":2},
 "encoding":{"detail":{"field":"g"},"order":{"field":"k"}}},
{"data":{"name":"labels"},"transform":[{"filter":"datum.k === 'beam'"}],
 "mark":{"type":"text","align":"left","baseline":"alphabetic","font":"Liberation Sans","fontSize":29.5,"color":"#7030a0"},
 "encoding":{"text":{"field":"t"}}},
{"data":{"name":"labels"},"transform":[{"filter":"datum.k === 'warm'"}],
 "mark":{"type":"text","align":"left","baseline":"alphabetic","font":"Liberation Sans","fontSize":32,"color":"#000000"},
 "encoding":{"text":{"field":"t"}}},
{"data":{"name":"labels"},"transform":[{"filter":"datum.k === 'ru2'"}],
 "mark":{"type":"text","align":"left","baseline":"alphabetic","font":"Liberation Sans","fontSize":42,"color":"#000000"},
 "encoding":{"text":{"field":"t"}}},
{"data":{"name":"labels"},"transform":[{"filter":"datum.k === 'ru'"}],
 "mark":{"type":"text","align":"left","baseline":"alphabetic","font":"Liberation Sans","fontSize":43,"color":"#ee1111"},
 "encoding":{"text":{"field":"t"}}},
{"data":{"name":"boxes"},"transform":[{"filter":"datum.b === 'leg'"}],
 "mark":{"type":"rect","color":"#000000","opacity":0.1,"xOffset":2,"x2Offset":2,"yOffset":2,"y2Offset":2},
 "encoding":{"x2":{"field":"h2"},"y2":{"field":"v2"}}},
{"data":{"name":"boxes"},"transform":[{"filter":"datum.b === 'leg'"}],
 "mark":{"type":"rect","color":"#000000","opacity":0.08,"xOffset":5,"x2Offset":5,"yOffset":5,"y2Offset":5},
 "encoding":{"x2":{"field":"h2"},"y2":{"field":"v2"}}},
{"data":{"name":"boxes"},"transform":[{"filter":"datum.b === 'leg'"}],
 "mark":{"type":"rect","color":"#000000","opacity":0.05,"xOffset":8,"x2Offset":8,"yOffset":8,"y2Offset":8},
 "encoding":{"x2":{"field":"h2"},"y2":{"field":"v2"}}},
{"data":{"name":"boxes"},"transform":[{"filter":"datum.b === 'note'"}],
 "mark":{"type":"rect","color":"#000000","opacity":0.1,"xOffset":-2,"x2Offset":-2,"yOffset":-2,"y2Offset":-2},
 "encoding":{"x2":{"field":"h2"},"y2":{"field":"v2"}}},
{"data":{"name":"boxes"},"transform":[{"filter":"datum.b === 'note'"}],
 "mark":{"type":"rect","color":"#000000","opacity":0.08,"xOffset":-5,"x2Offset":-5,"yOffset":-5,"y2Offset":-5},
 "encoding":{"x2":{"field":"h2"},"y2":{"field":"v2"}}},
{"data":{"name":"boxes"},
 "mark":{"type":"rect","color":"#ffffff","opacity":1},
 "encoding":{"x2":{"field":"h2"},"y2":{"field":"v2"}}},
{"data":{"name":"rules"},"transform":[{"filter":"datum.r === 'leg'"}],
 "mark":{"type":"rule","color":"#ff0000","strokeWidth":4},
 "encoding":{"x2":{"field":"h2"}}},
{"data":{"name":"labels"},"transform":[{"filter":"datum.k === 'leg'"}],
 "mark":{"type":"text","align":"right","baseline":"alphabetic","font":"Liberation Sans","fontSize":30,"color":"#000000"},
 "encoding":{"text":{"field":"t"}}},
{"data":{"name":"labels"},"transform":[{"filter":"datum.k === 'box'"}],
 "mark":{"type":"text","align":"left","baseline":"alphabetic","font":"Liberation Sans","fontSize":29.5,"color":"#000000"},
 "encoding":{"text":{"field":"t"}}}
],
"resolve":{"axis":{"x":"independent","y":"independent"}}
}
